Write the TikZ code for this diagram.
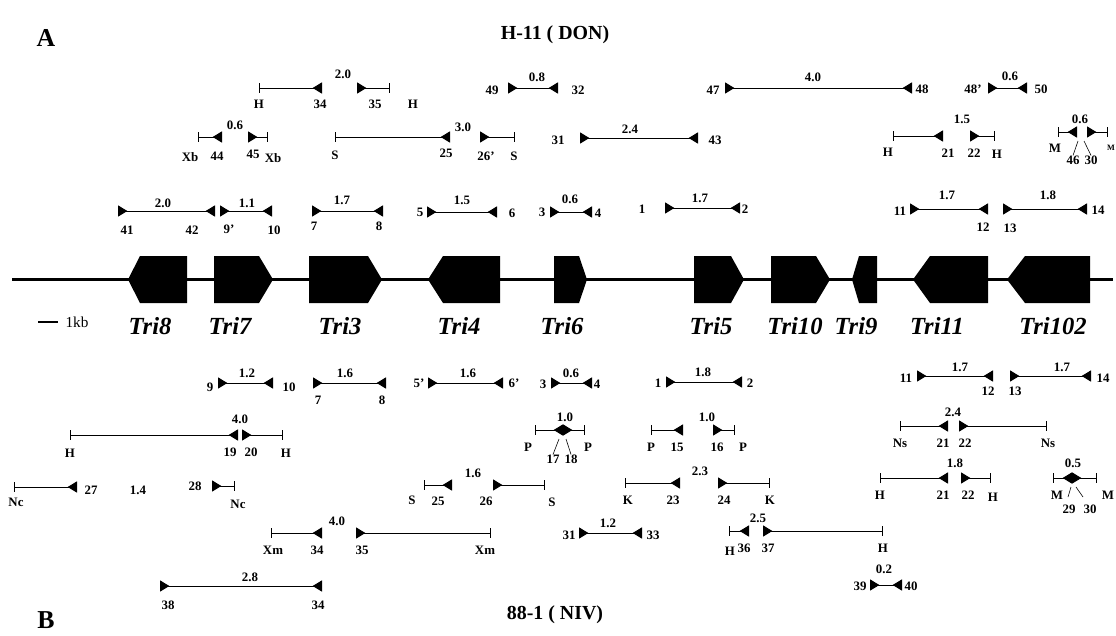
\documentclass[tikz,border=0pt]{standalone}
\usepackage{fontspec}
\setmainfont{Liberation Serif}
\usetikzlibrary{arrows.meta}
\tikzset{prm/.tip={Triangle[reversed,length=8pt,width=9.5pt]},
  rsite/.tip={Bar[width=8.5pt]}}

\begin{document}
\begin{tikzpicture}[x=0.03cm,y=-0.03cm,line join=miter,
    backbone/.style={line width=2.6pt},
    gene/.style={fill=black},
    frag/.style={line width=.8pt},
    pcr/.style={frag,prm-prm},
    inleft/.style={frag,rsite-prm},
    inright/.style={frag,prm-rsite},
    num/.style={font=\fontsize{11}{12}\selectfont\bfseries,inner sep=0pt},
    site/.style={num},
    leader/.style={line width=.5pt},
    genename/.style={font=\fontsize{21}{24}\selectfont\bfseries\itshape,inner sep=0pt},
    panel/.style={font=\fontsize{22}{24}\selectfont\bfseries,inner sep=0pt},
    strain/.style={font=\fontsize{17}{19}\selectfont\bfseries,inner sep=0pt}]
    \useasboundingbox (0,0) rectangle (1116,635);

    % Panel titles.
    \node[panel] (pA) at (46,38) {A};
    \node[strain] (sA) at (555,35) {H-11 ( DON)};
    \node[panel] (pB) at (46,620) {B};
    \node[strain] (sB) at (555,615) {88-1 ( NIV)};

    % The cluster backbone and the ten genes.
    \coordinate (left) at (12,279.5);
    \coordinate (right) at (1113,279.5);
    \draw[backbone] (left) -- (right);
    \fill[gene] (128,279.5) -- (140,256) -- (187,256) -- (187,303) -- (140,303) -- cycle;
    \fill[gene] (214,256) -- (259,256) -- (273,279.5) -- (259,303) -- (214,303) -- cycle;
    \fill[gene] (309,256) -- (368,256) -- (382,279.5) -- (368,303) -- (309,303) -- cycle;
    \fill[gene] (428,279.5) -- (443,256) -- (500,256) -- (500,303) -- (443,303) -- cycle;
    \fill[gene] (554,256) -- (579,256) -- (587,279.5) -- (579,303) -- (554,303) -- cycle;
    \fill[gene] (694,256) -- (731,256) -- (744,279.5) -- (731,303) -- (694,303) -- cycle;
    \fill[gene] (771,256) -- (816,256) -- (830,279.5) -- (816,303) -- (771,303) -- cycle;
    \fill[gene] (852,279.5) -- (859,256) -- (877,256) -- (877,303) -- (859,303) -- cycle;
    \fill[gene] (913,279.5) -- (930,256) -- (988,256) -- (988,303) -- (930,303) -- cycle;
    \fill[gene] (1007,279.5) -- (1025,256) -- (1090,256) -- (1090,303) -- (1025,303) -- cycle;
    \node[genename] (tri8) at (150,326) {Tri8};
    \node[genename] (tri7) at (230,326) {Tri7};
    \node[genename] (tri3) at (340,326) {Tri3};
    \node[genename] (tri4) at (459,326) {Tri4};
    \node[genename] (tri6) at (562,326) {Tri6};
    \node[genename] (tri5) at (711,326) {Tri5};
    \node[genename] (tri10) at (795,326) {Tri10};
    \node[genename] (tri9) at (856,326) {Tri9};
    \node[genename] (tri11) at (937,326) {Tri11};
    \node[genename] (tri102) at (1053,326) {Tri102};

    % Scale bar.
    \coordinate (kb1) at (38,322);
    \coordinate (kb2) at (58,322);
    \draw[line width=2.2pt] (kb1) -- (kb2);
    \node[font=\fontsize{13}{14}\selectfont,inner sep=0pt] (kb) at (77,322) {1kb};

    % A, first row.
    \coordinate (aH1) at (259,88); \coordinate (a34) at (322,88);
    \coordinate (a35) at (357,88); \coordinate (aH2) at (390,88);
    \draw[inleft] (aH1) -- (a34);
    \draw[inright] (a35) -- (aH2);
    \node[site] (laH1) at (259,104) {H};
    \node[num] (la34) at (320,104) {34};
    \node[num] (sa1) at (343,74) {2.0};
    \node[num] (la35) at (375,104) {35};
    \node[site] (laH2) at (413,104) {H};

    \coordinate (a49) at (508,88); \coordinate (a32) at (558,88);
    \draw[pcr] (a49) -- (a32);
    \node[num] (la49) at (492,90) {49};
    \node[num] (sa2) at (537,77) {0.8};
    \node[num] (la32) at (578,90) {32};

    \coordinate (a47) at (725,88); \coordinate (a48) at (912,88);
    \draw[pcr] (a47) -- (a48);
    \node[num] (la47) at (713,90) {47};
    \node[num] (sa3) at (813,77) {4.0};
    \node[num] (la48) at (922,89) {48};

    \coordinate (a48p) at (988,88); \coordinate (a50) at (1027,88);
    \draw[pcr] (a48p) -- (a50);
    \node[num] (la48p) at (973,89) {48'};
    \node[num] (sa4) at (1010,76) {0.6};
    \node[num] (la50) at (1041,89) {50};

    % A, second row.
    \coordinate (aXb1) at (198,137); \coordinate (a44) at (222,137);
    \coordinate (a45) at (248,137); \coordinate (aXb2) at (268,137);
    \draw[inleft] (aXb1) -- (a44);
    \draw[inright] (a45) -- (aXb2);
    \node[site] (laXb1) at (190,157) {Xb};
    \node[num] (la44) at (217,156) {44};
    \node[num] (sa5) at (235,125) {0.6};
    \node[num] (la45) at (253,154) {45};
    \node[site] (laXb2) at (273,158) {Xb};

    \coordinate (aS1) at (335,137); \coordinate (a25) at (450,137);
    \coordinate (a26p) at (480,137); \coordinate (aS2) at (515,137);
    \draw[inleft] (aS1) -- (a25);
    \draw[inright] (a26p) -- (aS2);
    \node[site] (laS1) at (335,155) {S};
    \node[num] (la25) at (446,153) {25};
    \node[num] (sa6) at (463,127) {3.0};
    \node[num] (la26p) at (486,156) {26'};
    \node[site] (laS2) at (514,156) {S};

    \coordinate (a31) at (580,138); \coordinate (a43) at (698,138);
    \draw[pcr] (a31) -- (a43);
    \node[num] (la31) at (558,140) {31};
    \node[num] (sa7) at (630,129) {2.4};
    \node[num] (la43) at (715,140) {43};

    \coordinate (aH3) at (893,136); \coordinate (a21) at (943,136);
    \coordinate (a22) at (970,136); \coordinate (aH4) at (995,136);
    \draw[inleft] (aH3) -- (a21);
    \draw[inright] (a22) -- (aH4);
    \node[site] (laH3) at (888,152) {H};
    \node[num] (la21) at (948,153) {21};
    \node[num] (sa8) at (962,119) {1.5};
    \node[num] (la22) at (974,153) {22};
    \node[site] (laH4) at (997,154) {H};

    \coordinate (aM1) at (1058,132); \coordinate (a46) at (1077,132);
    \coordinate (a30) at (1087,132); \coordinate (aM2) at (1108,132);
    \draw[inleft] (aM1) -- (a46);
    \draw[inright] (a30) -- (aM2);
    \node[site] (laM1) at (1055,148) {M};
    \node[num] (sa9) at (1080,119) {0.6};
    \node[num] (la46) at (1073,160) {46};
    \node[num] (la30) at (1091,160) {30};
    \node[site,font=\fontsize{7}{8}\selectfont\bfseries] (laM2) at (1111,148) {M};
    \coordinate (ka46) at (1078,141); \coordinate (ka30) at (1084,141);
    \draw[leader] (ka46) -- (la46.north);
    \draw[leader] (ka30) -- (la30.north);

    % A, third row.
    \coordinate (a41) at (118,211); \coordinate (a42) at (215,211);
    \draw[pcr] (a41) -- (a42);
    \node[num] (la41) at (127,230) {41};
    \node[num] (sa10) at (163,203) {2.0};
    \node[num] (la42) at (192,230) {42};

    \coordinate (a9p) at (220,211); \coordinate (a10) at (272,211);
    \draw[pcr] (a9p) -- (a10);
    \node[num] (la9p) at (229,229) {9'};
    \node[num] (sa11) at (247,203) {1.1};
    \node[num] (la10) at (274,230) {10};

    \coordinate (a7) at (312,211); \coordinate (a8) at (383,211);
    \draw[pcr] (a7) -- (a8);
    \node[num] (la7) at (314,226) {7};
    \node[num] (sa12) at (342,200) {1.7};
    \node[num] (la8) at (379,226) {8};

    \coordinate (a5) at (427,212); \coordinate (a6) at (497,212);
    \draw[pcr] (a5) -- (a6);
    \node[num] (la5) at (420,212) {5};
    \node[num] (sa13) at (462,200) {1.5};
    \node[num] (la6) at (512,213) {6};

    \coordinate (a3) at (550,212); \coordinate (a4) at (592,212);
    \draw[pcr] (a3) -- (a4);
    \node[num] (la3) at (542,212) {3};
    \node[num] (sa14) at (570,199) {0.6};
    \node[num] (la4) at (598,213) {4};

    \coordinate (a1) at (665,208); \coordinate (a2) at (740,208);
    \draw[pcr] (a1) -- (a2);
    \node[num] (la1) at (642,209) {1};
    \node[num] (sa15) at (700,198) {1.7};
    \node[num] (la2) at (745,209) {2};

    \coordinate (a11) at (910,209); \coordinate (a12) at (988,209);
    \draw[pcr] (a11) -- (a12);
    \node[num] (la11) at (900,211) {11};
    \node[num] (sa16) at (947,195) {1.7};
    \node[num] (la12) at (983,227) {12};

    \coordinate (a13) at (1003,209); \coordinate (a14) at (1087,209);
    \draw[pcr] (a13) -- (a14);
    \node[num] (la13) at (1010,228) {13};
    \node[num] (sa17) at (1048,195) {1.8};
    \node[num] (la14) at (1098,210) {14};

    % B, first row.
    \coordinate (b9) at (218,383); \coordinate (b10) at (273,383);
    \draw[pcr] (b9) -- (b10);
    \node[num] (lb9) at (210,387) {9};
    \node[num] (sb1) at (247,373) {1.2};
    \node[num] (lb10) at (289,387) {10};

    \coordinate (b7) at (313,383); \coordinate (b8) at (386,383);
    \draw[pcr] (b7) -- (b8);
    \node[num] (lb7) at (318,400) {7};
    \node[num] (sb2) at (345,373) {1.6};
    \node[num] (lb8) at (382,400) {8};

    \coordinate (b5p) at (428,383); \coordinate (b6p) at (503,383);
    \draw[pcr] (b5p) -- (b6p);
    \node[num] (lb5p) at (419,383) {5'};
    \node[num] (sb3) at (468,373) {1.6};
    \node[num] (lb6p) at (514,383) {6'};

    \coordinate (b3) at (551,383); \coordinate (b4) at (592,383);
    \draw[pcr] (b3) -- (b4);
    \node[num] (lb3) at (543,384) {3};
    \node[num] (sb4) at (571,373) {0.6};
    \node[num] (lb4) at (597,384) {4};

    \coordinate (b1) at (666,382); \coordinate (b2) at (742,382);
    \draw[pcr] (b1) -- (b2);
    \node[num] (lb1) at (658,383) {1};
    \node[num] (sb5) at (703,372) {1.8};
    \node[num] (lb2) at (750,383) {2};

    \coordinate (b11) at (917,376); \coordinate (b12) at (993,376);
    \draw[pcr] (b11) -- (b12);
    \node[num] (lb11) at (906,378) {11};
    \node[num] (sb6) at (960,367) {1.7};
    \node[num] (lb12) at (988,391) {12};

    \coordinate (b13) at (1010,376); \coordinate (b14) at (1091,376);
    \draw[pcr] (b13) -- (b14);
    \node[num] (lb13) at (1015,391) {13};
    \node[num] (sb7) at (1062,367) {1.7};
    \node[num] (lb14) at (1103,378) {14};

    % B, second row.
    \coordinate (bH1) at (70,435); \coordinate (b19) at (238,435);
    \coordinate (b20) at (242,435); \coordinate (bH2) at (283,435);
    \draw[inleft] (bH1) -- (b19);
    \draw[inright] (b20) -- (bH2);
    \node[site] (lbH1) at (70,453) {H};
    \node[num] (lb19) at (230,452) {19};
    \node[num] (sb8) at (240,419) {4.0};
    \node[num] (lb20) at (251,452) {20};
    \node[site] (lbH2) at (286,453) {H};

    \coordinate (bP1) at (535,430); \coordinate (b17) at (563,430);
    \coordinate (b18) at (563,430); \coordinate (bP2) at (585,430);
    \draw[inleft] (bP1) -- (b17);
    \draw[inright] (b18) -- (bP2);
    \node[site] (lbP1) at (528,447) {P};
    \node[num] (sb9) at (565,417) {1.0};
    \node[num] (lb17) at (553,459) {17};
    \node[num] (lb18) at (571,459) {18};
    \node[site] (lbP2) at (588,447) {P};
    \coordinate (kb17) at (559,439); \coordinate (kb18) at (566,439);
    \draw[leader] (kb17) -- (lb17.north);
    \draw[leader] (kb18) -- (lb18.north);

    \coordinate (bP3) at (651,430); \coordinate (b15) at (683,430);
    \coordinate (b16) at (713,430); \coordinate (bP4) at (735,430);
    \draw[inleft] (bP3) -- (b15);
    \draw[inright] (b16) -- (bP4);
    \node[site] (lbP3) at (651,447) {P};
    \node[num] (lb15) at (677,447) {15};
    \node[num] (sb10) at (707,417) {1.0};
    \node[num] (lb16) at (717,447) {16};
    \node[site] (lbP4) at (743,447) {P};

    \coordinate (bNs1) at (900,426); \coordinate (b21a) at (948,426);
    \coordinate (b22a) at (959,426); \coordinate (bNs2) at (1047,426);
    \draw[inleft] (bNs1) -- (b21a);
    \draw[inright] (b22a) -- (bNs2);
    \node[site] (lbNs1) at (900,443) {Ns};
    \node[num] (lb21a) at (943,443) {21};
    \node[num] (sb11) at (953,412) {2.4};
    \node[num] (lb22a) at (965,443) {22};
    \node[site] (lbNs2) at (1048,443) {Ns};

    % B, third row.
    \coordinate (bNc1) at (14,487); \coordinate (b27) at (77,487);
    \coordinate (b28) at (212,486); \coordinate (bNc2) at (235,486);
    \draw[inleft] (bNc1) -- (b27);
    \draw[inright] (b28) -- (bNc2);
    \node[site] (lbNc1) at (16,502) {Nc};
    \node[num] (lb27) at (91,490) {27};
    \node[num] (sb12) at (138,490) {1.4};
    \node[num] (lb28) at (195,486) {28};
    \node[site] (lbNc2) at (238,504) {Nc};

    \coordinate (bS1) at (424,485); \coordinate (b25) at (452,485);
    \coordinate (b26) at (493,485); \coordinate (bS2) at (545,485);
    \draw[inleft] (bS1) -- (b25);
    \draw[inright] (b26) -- (bS2);
    \node[site] (lbS1) at (412,500) {S};
    \node[num] (lb25) at (438,501) {25};
    \node[num] (sb13) at (473,473) {1.6};
    \node[num] (lb26) at (486,501) {26};
    \node[site] (lbS2) at (552,502) {S};

    \coordinate (bK1) at (625,483); \coordinate (b23) at (680,483);
    \coordinate (b24) at (718,483); \coordinate (bK2) at (770,483);
    \draw[inleft] (bK1) -- (b23);
    \draw[inright] (b24) -- (bK2);
    \node[site] (lbK1) at (628,500) {K};
    \node[num] (lb23) at (673,500) {23};
    \node[num] (sb14) at (700,471) {2.3};
    \node[num] (lb24) at (724,500) {24};
    \node[site] (lbK2) at (770,500) {K};

    \coordinate (bH3) at (880,478); \coordinate (b21b) at (948,478);
    \coordinate (b22b) at (961,478); \coordinate (bH4) at (991,478);
    \draw[inleft] (bH3) -- (b21b);
    \draw[inright] (b22b) -- (bH4);
    \node[site] (lbH3) at (880,495) {H};
    \node[num] (lb21b) at (943,495) {21};
    \node[num] (sb15) at (955,463) {1.8};
    \node[num] (lb22b) at (968,495) {22};
    \node[site] (lbH4) at (993,497) {H};

    \coordinate (bM1) at (1053,478); \coordinate (b29) at (1072,478);
    \coordinate (b30) at (1072,478); \coordinate (bM2) at (1097,478);
    \draw[inleft] (bM1) -- (b29);
    \draw[inright] (b30) -- (bM2);
    \node[site] (lbM1) at (1057,495) {M};
    \node[num] (sb16) at (1073,463) {0.5};
    \node[site] (lbM2) at (1108,495) {M};
    \node[num] (lb29) at (1069,509) {29};
    \node[num] (lb30) at (1090,509) {30};
    \coordinate (kb29) at (1071,487); \coordinate (kb30) at (1076,487);
    \draw[leader] (kb29) -- (1068,497);
    \draw[leader] (kb30) -- (1083,497);

    % B, fourth and fifth rows.
    \coordinate (bXm1) at (271,533); \coordinate (b34a) at (322,533);
    \coordinate (b35) at (356,533); \coordinate (bXm2) at (491,533);
    \draw[inleft] (bXm1) -- (b34a);
    \draw[inright] (b35) -- (bXm2);
    \node[site] (lbXm1) at (273,550) {Xm};
    \node[num] (lb34a) at (317,550) {34};
    \node[num] (sb17) at (337,521) {4.0};
    \node[num] (lb35) at (362,550) {35};
    \node[site] (lbXm2) at (485,550) {Xm};

    \coordinate (b31) at (579,533); \coordinate (b33) at (642,533);
    \draw[pcr] (b31) -- (b33);
    \node[num] (lb31) at (569,535) {31};
    \node[num] (sb18) at (608,523) {1.2};
    \node[num] (lb33) at (653,535) {33};

    \coordinate (bH5) at (729,531); \coordinate (b36) at (749,531);
    \coordinate (b37) at (763,531); \coordinate (bH6) at (883,531);
    \draw[inleft] (bH5) -- (b36);
    \draw[inright] (b37) -- (bH6);
    \node[site] (lbH5) at (730,551) {H};
    \node[num] (lb36) at (744,548) {36};
    \node[num] (sb19) at (758,518) {2.5};
    \node[num] (lb37) at (768,548) {37};
    \node[site] (lbH6) at (883,548) {H};

    \coordinate (b38) at (160,586); \coordinate (b34b) at (322,586);
    \draw[pcr] (b38) -- (b34b);
    \node[num] (lb38) at (168,605) {38};
    \node[num] (sb20) at (250,577) {2.8};
    \node[num] (lb34b) at (318,605) {34};

    \coordinate (b39) at (870,585); \coordinate (b40) at (902,585);
    \draw[pcr] (b39) -- (b40);
    \node[num] (lb39) at (860,586) {39};
    \node[num] (sb21) at (884,569) {0.2};
    \node[num] (lb40) at (911,586) {40};
  \end{tikzpicture}
\end{document}
